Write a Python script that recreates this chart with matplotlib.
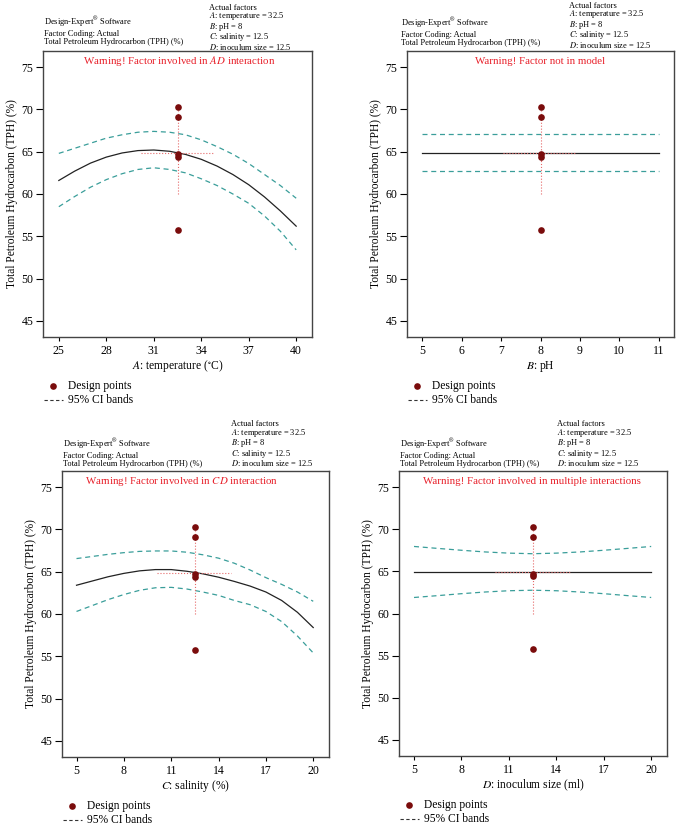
import matplotlib
matplotlib.use("Agg")
import matplotlib.pyplot as plt
from matplotlib.lines import Line2D

plt.rcParams["font.family"] = ["Liberation Serif", "DejaVu Serif"]
plt.rcParams["mathtext.fontset"] = "stix"

W, H = 682, 831

# design points (same in every panel, at the centre point of the factor)
design_y = [70.3, 69.1, 64.7, 64.4, 55.8]

# A: temperature
a_x = [25, 26, 27, 28, 29, 30, 31, 32, 33, 34, 35, 36, 37, 38, 39, 40]
a_fit = [61.6, 62.7, 63.65, 64.36, 64.85, 65.13, 65.2, 65.05, 64.68, 64.1,
         63.3, 62.3, 61.1, 59.65, 58.0, 56.2]
a_up = [64.8, 65.4, 66.0, 66.6, 67.0, 67.3, 67.4, 67.3, 67.0, 66.4,
        65.6, 64.7, 63.6, 62.3, 61.0, 59.5]
a_lo = [58.5, 59.7, 60.8, 61.7, 62.4, 62.9, 63.1, 62.9, 62.5, 61.8,
        61.0, 60.0, 58.9, 57.4, 55.6, 53.4]

# B: pH (not in model -> flat)
b_x = [5, 11]
b_fit = [64.9, 64.9]
b_up = [67.15, 67.15]
b_lo = [62.75, 62.75]

# C: salinity
c_x = [5, 6, 7, 8, 9, 10, 11, 12, 13, 14, 15, 16, 17, 18, 19, 20]
c_fit = [63.4, 63.9, 64.4, 64.8, 65.1, 65.25, 65.25, 65.05, 64.75, 64.35,
         63.85, 63.3, 62.6, 61.6, 60.2, 58.4]
c_up = [66.55, 66.8, 67.05, 67.25, 67.4, 67.45, 67.45, 67.3, 67.0, 66.6,
        66.0, 65.2, 64.3, 63.5, 62.6, 61.5]
c_lo = [60.3, 61.0, 61.7, 62.3, 62.8, 63.1, 63.15, 62.95, 62.6, 62.2,
        61.6, 61.1, 60.3, 59.1, 57.4, 55.4]

# D: inoculum size
d_x = [5, 6.5, 8, 9.5, 11, 12.5, 14, 15.5, 17, 18.5, 20]
d_fit = [64.9] * 11
d_up = [67.95, 67.72, 67.5, 67.3, 67.16, 67.09, 67.16, 67.3, 67.5, 67.72, 67.95]
d_lo = [61.9, 62.12, 62.35, 62.55, 62.7, 62.76, 62.7, 62.55, 62.35, 62.12, 61.9]

panels = [
    dict(box=(43, 51, 312, 337), x=a_x, fit=a_fit, up=a_up, lo=a_lo, c=32.5,
         xticks=[25, 28, 31, 34, 37, 40], xlim=(24.0, 41.0), hx=(30.2, 34.8),
         xlabel=r"$\it{A}$: temperature ($^{\circ}$C)",
         warn=["Warning! Factor involved in ", "AD", " interaction"], wx=178.8,
         hl=(44, 8.7), hr=(209, 3)),
    dict(box=(407, 51, 674, 337), x=b_x, fit=b_fit, up=b_up, lo=b_lo, c=8,
         xticks=[5, 6, 7, 8, 9, 10, 11], xlim=(4.61, 11.39), hx=(7.05, 8.9),
         xlabel=r"$\it{B}$: pH",
         warn=["Warning! Factor not in model"], wx=540,
         hl=(401, 7.7), hr=(569, 5)),
    dict(box=(62, 471, 329, 757), x=c_x, fit=c_fit, up=c_up, lo=c_lo, c=12.5,
         xticks=[5, 8, 11, 14, 17, 20], xlim=(4.08, 21.0), hx=(10.1, 14.8),
         xlabel=r"$\it{C}$: salinity (%)",
         warn=["Warning! Factor involved in ", "CD", " interaction"], wx=182,
         hl=(63, 6.7), hr=(231, 6.7)),
    dict(box=(399, 471, 667, 756), x=d_x, fit=d_fit, up=d_up, lo=d_lo, c=12.5,
         xticks=[5, 8, 11, 14, 17, 20], xlim=(4.05, 21.0), hx=(10.1, 14.9),
         xlabel=r"$\it{D}$: inoculum size (ml)",
         warn=["Warning! Factor involved in multiple interactions"], wx=531.8,
         hl=(400, 6.7), hr=(557, 6.7)),
]

ylabel = "Total Petroleum Hydrocarbon (TPH) (%)"
left_head = ["Design-Expert$^{\\circledR}$ Software", "Factor Coding: Actual", ylabel]
right_head = ["Actual factors", r"$\it{A}$: temperature = 32.5", r"$\it{B}$: pH = 8",
              r"$\it{C}$: salinity = 12.5", r"$\it{D}$: inoculum size = 12.5"]

CI = "#3a9e9a"
PT = "#7a0c0c"
RED = "#e8202a"


def fx(x):
    return x / W


def fy(y):
    return 1 - y / H


fig = plt.figure(figsize=(W / 100, H / 100), dpi=100)

for p in panels:
    l, t, r, b = p["box"]
    ax = fig.add_axes([fx(l), fy(b), (r - l) / W, (b - t) / H])
    ax.plot(p["x"], p["fit"], color="#222222", lw=0.9)
    ax.plot(p["x"], p["up"], color=CI, lw=0.9, ls=(0, (4, 3)))
    ax.plot(p["x"], p["lo"], color=CI, lw=0.9, ls=(0, (4, 3)))
    # crosshair at the current factor setting
    ax.plot([p["c"], p["c"]], [60.0, 69.8], color="#e66a6a", lw=0.8, ls=":")
    ax.plot(p["hx"], [64.9, 64.9], color="#e66a6a", lw=0.8, ls=":")
    ax.plot([p["c"]] * len(design_y), design_y, "o", color=PT, ms=4.8,
            markeredgewidth=0, zorder=5)
    ax.set_xlim(*p["xlim"])
    ax.set_ylim(43.1, 76.9)
    ax.set_xticks(p["xticks"])
    ax.set_yticks([45, 50, 55, 60, 65, 70, 75])
    ax.tick_params(axis="y", direction="out", length=5, width=0.8, pad=2, labelsize=8.5)
    ax.tick_params(axis="x", direction="out", length=3, width=0.8, pad=3, labelsize=8.5)
    for s in ax.spines.values():
        s.set_color("#444444")
        s.set_linewidth(1.0)

    # y label and x label
    fig.text(fx(l - 31), fy((t + b) / 2), ylabel, rotation=90, ha="center",
             va="center", fontsize=8.3)
    fig.text(fx((l + r) / 2), fy(b + 29), p["xlabel"], ha="center", va="center",
             fontsize=8.3)

    # headers, one block of text per column
    hx0, off = p["hl"]
    fig.text(fx(hx0), fy(t - off + 4), "\n".join(left_head), ha="left",
             va="bottom", fontsize=6.0, linespacing=1.1)
    rx0, roff = p["hr"]
    fig.text(fx(rx0), fy(t - roff + 4), "\n".join(right_head), ha="left",
             va="bottom", fontsize=6.0, linespacing=0.82)

    # warning text (partly italic)
    parts = p["warn"]
    if len(parts) == 1:
        wtxt = parts[0]
    else:
        wtxt = parts[0] + r"$\it{" + parts[1] + "}$" + parts[2]
    fig.text(fx(p["wx"]), fy(t + 10.5), wtxt, ha="center", va="center",
             fontsize=7.8, color=RED)

    # legend below
    fig.add_artist(Line2D([fx(l + 10)], [fy(b + 49)], marker="o", color=PT,
                          ms=4.8, markeredgewidth=0, transform=fig.transFigure))
    fig.text(fx(l + 25), fy(b + 49), "Design points", ha="left", va="center",
             fontsize=8.3)
    fig.add_artist(Line2D([fx(l + 1), fx(l + 20)], [fy(b + 63), fy(b + 63)],
                          color="#333333", lw=0.8, ls=(0, (3, 2.2)),
                          transform=fig.transFigure))
    fig.text(fx(l + 25), fy(b + 63), "95% CI bands", ha="left", va="center",
             fontsize=8.3)

fig.savefig("out.png", dpi=100)
